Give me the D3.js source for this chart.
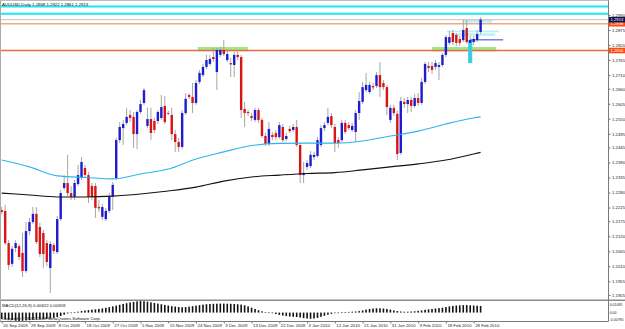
<!DOCTYPE html>
<meta charset="utf-8">
<style>
body { margin: 0; background: #fff; }
svg { display: block; font-family: "Liberation Sans", Arial, sans-serif; }
.t { font-size: 4.3px; fill: #111; }
.axis text { font-size: 4.3px; fill: #222; font-family: "Liberation Sans", Arial, sans-serif; }
.axis line { stroke: #777; }
.axis .domain { display: none; }
.axis.small text { font-size: 3.5px; }
</style>
<svg width="625" height="329"></svg>
<script src="https://cdn.jsdelivr.net/npm/d3@7"></script>
<script>

// daily bars, oldest first
var opens = [1.2216,1.2213,1.2095,1.2019,1.2077,1.2084,1.2059,1.1993,1.2139,1.2172,
  1.2202,1.2154,1.2132,1.2095,1.2004,1.2088,1.2062,1.2183,1.2297,1.2315,
  1.2278,1.2264,1.2311,1.2337,1.2370,1.2344,1.2304,1.2304,1.2227,1.2191,
  1.2183,1.2213,1.2267,1.2333,1.2472,1.2516,1.2535,1.2564,1.2557,1.2494,
  1.2575,1.2608,1.2524,1.2549,1.2542,1.2542,1.2553,1.2597,1.2571,1.2564,
  1.2494,1.2465,1.2447,1.2571,1.2637,1.2630,1.2608,1.2685,1.2710,1.2740,
  1.2751,1.2776,1.2721,1.2784,1.2802,1.2765,1.2754,1.2747,1.2784,1.2776,
  1.2586,1.2575,1.2560,1.2546,1.2582,1.2546,1.2487,1.2458,1.2491,1.2498,
  1.2483,1.2520,1.2476,1.2513,1.2509,1.2520,1.2454,1.2344,1.2374,1.2377,
  1.2410,1.2414,1.2454,1.2516,1.2535,1.2560,1.2520,1.2472,1.2472,1.2535,
  1.2527,1.2509,1.2502,1.2571,1.2612,1.2655,1.2648,1.2670,1.2670,1.2710,
  1.2681,1.2666,1.2546,1.2590,1.2568,1.2425,1.2612,1.2604,1.2619,1.2597,
  1.2626,1.2608,1.2685,1.2743,1.2743,1.2740,1.2740,1.2747,1.2784,1.2828,
  1.2864,1.2857,1.2842,1.2838,1.2882,1.2828,1.2831,1.2838,1.2868];
var highs = [1.2227,1.2235,1.2106,1.2084,1.2106,1.2092,1.2132,1.2172,1.2187,1.2227,
  1.2227,1.2169,1.2143,1.2106,1.2103,1.2095,1.2194,1.2289,1.2344,1.2418,
  1.2304,1.2326,1.2381,1.2410,1.2381,1.2355,1.2315,1.2315,1.2253,1.2238,
  1.2224,1.2278,1.2319,1.2480,1.2538,1.2546,1.2590,1.2582,1.2575,1.2582,
  1.2619,1.2663,1.2590,1.2590,1.2553,1.2582,1.2637,1.2633,1.2579,1.2590,
  1.2509,1.2480,1.2582,1.2644,1.2644,1.2681,1.2692,1.2729,1.2751,1.2784,
  1.2784,1.2809,1.2809,1.2813,1.2839,1.2798,1.2773,1.2795,1.2795,1.2784,
  1.2612,1.2582,1.2571,1.2590,1.2590,1.2553,1.2498,1.2538,1.2502,1.2509,
  1.2538,1.2531,1.2498,1.2524,1.2531,1.2546,1.2461,1.2392,1.2399,1.2432,
  1.2429,1.2483,1.2527,1.2538,1.2590,1.2571,1.2531,1.2483,1.2546,1.2546,
  1.2538,1.2535,1.2582,1.2648,1.2685,1.2718,1.2685,1.2681,1.2721,1.2758,
  1.2692,1.2674,1.2601,1.2601,1.2579,1.2630,1.2626,1.2630,1.2630,1.2641,
  1.2644,1.2699,1.2758,1.2758,1.2758,1.2765,1.2758,1.2791,1.2857,1.2871,
  1.2875,1.2864,1.2853,1.2912,1.2912,1.2853,1.2853,1.2875,1.2922];
var lows = [1.2202,1.2088,1.1997,1.2008,1.2062,1.2033,1.1971,1.1986,1.2125,1.2165,
  1.2092,1.2044,1.2004,1.2011,1.1912,1.2055,1.2055,1.2176,1.2289,1.2267,
  1.2253,1.2253,1.2304,1.2326,1.2333,1.2242,1.2253,1.2187,1.2209,1.2180,
  1.2176,1.2205,1.2216,1.2326,1.2461,1.2454,1.2527,1.2538,1.2443,1.2439,
  1.2568,1.2601,1.2516,1.2472,1.2498,1.2531,1.2546,1.2531,1.2564,1.2472,
  1.2429,1.2429,1.2439,1.2564,1.2623,1.2571,1.2601,1.2677,1.2703,1.2732,
  1.2743,1.2758,1.2655,1.2776,1.2780,1.2758,1.2703,1.2703,1.2765,1.2553,
  1.2520,1.2560,1.2542,1.2538,1.2535,1.2480,1.2450,1.2450,1.2472,1.2472,
  1.2476,1.2465,1.2469,1.2498,1.2502,1.2447,1.2315,1.2315,1.2363,1.2370,
  1.2399,1.2407,1.2447,1.2505,1.2527,1.2516,1.2429,1.2443,1.2465,1.2494,
  1.2509,1.2502,1.2465,1.2546,1.2604,1.2648,1.2641,1.2655,1.2663,1.2630,
  1.2655,1.2564,1.2535,1.2560,1.2399,1.2418,1.2590,1.2571,1.2575,1.2590,
  1.2597,1.2601,1.2677,1.2721,1.2714,1.2729,1.2692,1.2740,1.2776,1.2820,
  1.2820,1.2817,1.2817,1.2831,1.2824,1.2754,1.2820,1.2831,1.2861];
var closes = [1.2209,1.2095,1.2015,1.2074,1.2095,1.2044,1.1993,1.2139,1.2172,1.2202,
  1.2099,1.2055,1.2055,1.2026,1.2092,1.2066,1.2183,1.2278,1.2315,1.2278,
  1.2264,1.2315,1.2344,1.2392,1.2344,1.2264,1.2264,1.2224,1.2222,1.2227,
  1.2213,1.2264,1.2308,1.2472,1.2520,1.2531,1.2557,1.2553,1.2494,1.2575,
  1.2604,1.2655,1.2549,1.2498,1.2509,1.2575,1.2593,1.2538,1.2569,1.2494,
  1.2465,1.2447,1.2571,1.2623,1.2630,1.2608,1.2681,1.2718,1.2740,1.2765,
  1.2769,1.2769,1.2802,1.2802,1.2787,1.2787,1.2749,1.2784,1.2776,1.2582,
  1.2571,1.2571,1.2553,1.2582,1.2546,1.2487,1.2458,1.2513,1.2483,1.2483,
  1.2527,1.2472,1.2487,1.2505,1.2520,1.2454,1.2344,1.2352,1.2388,1.2418,
  1.2418,1.2472,1.2516,1.2527,1.2557,1.2527,1.2461,1.2461,1.2535,1.2502,
  1.2516,1.2524,1.2571,1.2615,1.2666,1.2674,1.2674,1.2665,1.2710,1.2666,
  1.2666,1.2593,1.2590,1.2571,1.2421,1.2615,1.2604,1.2619,1.2597,1.2626,
  1.2608,1.2685,1.2751,1.2736,1.2729,1.2754,1.2747,1.2784,1.2849,1.2849,
  1.2831,1.2828,1.2828,1.2875,1.2831,1.2838,1.2842,1.2860,1.2913];

// MACD(12,26,9) main values per bar
var macd = [-0.0060,-0.0063,-0.0066,-0.0070,-0.0075,-0.0079,-0.0077,-0.0074,-0.0071,-0.0068,
  -0.0066,-0.0064,-0.0062,-0.0060,-0.0056,-0.0050,-0.0042,-0.0032,-0.0020,
  -0.0008,-0.0003,0.0003,0.0008,
  0.0014,0.0019,0.0023,0.0027,0.0030,0.0034,0.0039,0.0045,0.0051,0.0058,0.0065,
  0.0073,0.0081,0.0088,0.0095,0.0100,0.0105,0.01085,0.0106,0.0102,
  0.0096,0.0090,0.0084,0.0078,0.0072,0.0066,0.0060,0.0056,0.0052,
  0.0050,0.0052,0.0056,0.0060,0.0065,0.0070,
  0.0074,0.0078,0.0080,0.0082,0.0083,0.0084,0.0084,0.0083,0.0082,0.0080,0.0078,0.0075,
  0.0068,0.0058,0.0046,0.0034,0.0022,0.0012,
  0.0005,0.0001,-0.0006,-0.0014,
  -0.0022,-0.0028,-0.0033,-0.0037,-0.0040,-0.0042,-0.0046,-0.0052,-0.0056,-0.0058,-0.0056,-0.0050,
  -0.0040,-0.0030,-0.0020,-0.0012,-0.0006,-0.0002,0.0002,0.0004,0.0006,0.0008,0.0010,0.0014,0.0020,
  0.0028,0.0034,0.0038,0.0040,0.0040,0.0038,0.0034,0.0028,
  0.0020,0.0014,0.0010,0.0008,0.0008,0.0010,0.0012,0.0016,0.0020,
  0.0026,0.0030,0.0034,0.0038,0.0042,0.0046,0.0052,0.0058,0.0062,0.0066,0.0068,0.0070,0.0070,
  0.0068,0.0066,0.0064,0.00622];

// moving averages, sampled at these bars
var maBars  = [0,8,16,24,32,40,48,56,64,72,80,88,96,104,112,120,128,136,138];
var maFast  = [1.2399,1.2374,1.2341,1.2335,1.2330,1.2348,1.2366,1.2403,1.2429,1.2452,
  1.2460,1.2461,1.2461,1.2469,1.2487,1.2505,1.2531,1.2553,1.2557];
var maSlow  = [1.2278,1.2271,1.2264,1.2264,1.2267,1.2275,1.2286,1.2300,1.2322,1.2337,
  1.2344,1.2350,1.2353,1.2363,1.2374,1.2385,1.2399,1.2421,1.2427];

var priceTicks = [1.2930,1.2875,1.2820,1.2765,1.2710,1.2660,1.2605,1.2550,1.2495,1.2445,
  1.2390,1.2335,1.2280,1.2225,1.2175,1.2120,1.2065,1.2010,1.1955,1.1905];
var dateLabels = ["20 Sep 2009","29 Sep 2009","8 Oct 2009","18 Oct 2009","27 Oct 2009",
  "5 Nov 2009","15 Nov 2009","24 Nov 2009","3 Dec 2009","13 Dec 2009","22 Dec 2009",
  "3 Jan 2010","12 Jan 2010","21 Jan 2010","31 Jan 2010","9 Feb 2010","18 Feb 2010","28 Feb 2010"];
var macdTicks = [0.01085, 0, -0.0079];
var macdTickText = ["0.01085", "0.00", "-0.00790"];

// drawn objects
var cyanLevels = [1.2961, 1.2935];
var orangeLevels = [1.2898, 1.2800];
var greenZones = [[56.5, 71, 1.2813, 1.2797], [124, 142.5, 1.2813, 1.2797]];
var paleBoxes = [[133, 141.3, 1.2912, 1.2902], [128.3, 143.3, 1.2873, 1.2867], [129.8, 142.2, 1.2863, 1.2854]];
var blueSegs = [[135, 144.5, 1.2839]];
var pinBox = [134.4, 135.6, 1.2839, 1.2754];

var svg = d3.select("svg");
var n = closes.length;
var bars = d3.range(n);

var x = d3.scaleLinear().domain([0, n - 1]).range([1.7, 480.6]);
var y = d3.scaleLinear().domain([1.1905, 1.2930]).range([295, 15]);
var ym = d3.scaleLinear().domain([-0.0079, 0.01085]).range([321, 301]);

var right = 608.5;

// objects behind the bars
svg.selectAll(".gz").data(greenZones).enter().append("rect")
  .attr("x", d => x(d[0])).attr("width", d => x(d[1]) - x(d[0]))
  .attr("y", d => y(d[2])).attr("height", d => y(d[3]) - y(d[2]))
  .attr("fill", "#a4e68c");
svg.selectAll(".pb").data(paleBoxes).enter().append("rect")
  .attr("x", d => x(d[0])).attr("width", d => x(d[1]) - x(d[0]))
  .attr("y", d => y(d[2])).attr("height", d => y(d[3]) - y(d[2]))
  .attr("fill", "#b8f2f8");

svg.selectAll(".cl").data(cyanLevels).enter().append("line")
  .attr("x1", 0).attr("x2", right).attr("y1", d => y(d)).attr("y2", d => y(d))
  .attr("stroke", "#1ce6f2").attr("stroke-width", 2);
svg.append("line").attr("x1", 0).attr("x2", right)
  .attr("y1", y(closes[n - 1])).attr("y2", y(closes[n - 1]))
  .attr("stroke", "#b4b4b4").attr("stroke-width", 0.8);
svg.selectAll(".ol").data(orangeLevels).enter().append("line")
  .attr("x1", 0).attr("x2", right).attr("y1", d => y(d)).attr("y2", d => y(d))
  .attr("stroke", (d, i) => i ? "#ec6a3c" : "#f4a684").attr("stroke-width", 1.4);

svg.append("rect")
  .attr("x", x(pinBox[0])).attr("width", x(pinBox[1]) - x(pinBox[0]))
  .attr("y", y(pinBox[2])).attr("height", y(pinBox[3]) - y(pinBox[2]))
  .attr("fill", "#22dcf2");
svg.selectAll(".bs").data(blueSegs).enter().append("line")
  .attr("x1", d => x(d[0])).attr("x2", d => x(d[1]))
  .attr("y1", d => y(d[2])).attr("y2", d => y(d[2]))
  .attr("stroke", "#1a2ee0").attr("stroke-width", 0.9);

// candles
var cg = svg.append("g");
cg.selectAll(".wick").data(bars).enter().append("line")
  .attr("x1", i => x(i)).attr("x2", i => x(i))
  .attr("y1", i => y(highs[i])).attr("y2", i => y(lows[i]))
  .attr("stroke", "#9c9c9c").attr("stroke-width", 0.9);
cg.selectAll(".body").data(bars).enter().append("rect")
  .attr("x", i => x(i) - 1.2).attr("width", 2.4)
  .attr("y", i => y(Math.max(opens[i], closes[i])))
  .attr("height", i => Math.max(0.8, Math.abs(y(opens[i]) - y(closes[i]))))
  .attr("fill", i => closes[i] >= opens[i] ? "#1c1cd0" : "#d81414");

// moving averages
var line = d3.line().x(d => x(d[0])).y(d => y(d[1])).curve(d3.curveMonotoneX);
svg.append("path").datum(maBars.map((b, k) => [b, maFast[k]]))
  .attr("d", line).attr("fill", "none").attr("stroke", "#2cb4f0").attr("stroke-width", 1.1);
svg.append("path").datum(maBars.map((b, k) => [b, maSlow[k]]))
  .attr("d", line).attr("fill", "none").attr("stroke", "#111").attr("stroke-width", 1.1);

// title
svg.append("text").attr("class", "t").attr("x", 2).attr("y", 6.3)
  .text("AUDUSD,Daily  1.2868 1.2922 1.2861 1.2913");

// MACD pane
svg.append("text").attr("class", "t").attr("x", 2).attr("y", 319.5)
  .text("Copyright \u00a9 2001-2008 MetaQuotes Software Corp.");
svg.selectAll(".mb").data(bars).enter().append("rect")
  .attr("x", i => x(i) - 0.8).attr("width", 1.6)
  .attr("y", i => Math.min(ym(0), ym(macd[i])))
  .attr("height", i => Math.max(0.6, Math.abs(ym(macd[i]) - ym(0))))
  .attr("fill", "#111");
svg.append("text").attr("class", "t").attr("x", 2).attr("y", 306.5)
  .text("MACD(12,26,9) 0.00622 0.00658");

// frame and separators
svg.append("line").attr("x1", 0).attr("x2", 625).attr("y1", 300.3).attr("y2", 300.3)
  .attr("stroke", "#8c8c8c").attr("stroke-width", 1.6);
svg.append("line").attr("x1", right).attr("x2", right).attr("y1", 0).attr("y2", 321.5)
  .attr("stroke", "#7a7a7a").attr("stroke-width", 1);
svg.append("line").attr("x1", 0).attr("x2", right).attr("y1", 321.5).attr("y2", 321.5)
  .attr("stroke", "#7a7a7a").attr("stroke-width", 1);
svg.append("line").attr("x1", 0.5).attr("x2", 0.5).attr("y1", 0).attr("y2", 321.5)
  .attr("stroke", "#aaa").attr("stroke-width", 1);
svg.append("line").attr("x1", 0).attr("x2", right).attr("y1", 0.5).attr("y2", 0.5)
  .attr("stroke", "#bbb").attr("stroke-width", 1);

// price axis
svg.append("g").attr("class", "axis").attr("transform", "translate(" + right + ",0)")
  .call(d3.axisRight(y).tickValues(priceTicks).tickSize(2).tickPadding(1.5)
    .tickFormat(d3.format(".4f")));

// macd axis
svg.append("g").attr("class", "axis small").attr("transform", "translate(" + right + ",0)")
  .call(d3.axisRight(ym).tickValues(macdTicks).tickSize(0).tickPadding(1.2)
    .tickFormat((d, i) => macdTickText[i]))
  .selectAll("text").attr("dy", (d, i) => ["1.3em", "0.35em", "-0.2em"][i]);

// price tags on the axis
function tag(p, bg, fg) {
  var g = svg.append("g").attr("transform", "translate(" + (right + 0.5) + "," + y(p) + ")");
  g.append("rect").attr("x", 0).attr("y", -2.8).attr("width", 16).attr("height", 5.6).attr("fill", bg);
  g.append("text").attr("x", 1.5).attr("y", 1.6).attr("font-size", 4.2).attr("fill", fg)
    .text(d3.format(".4f")(p));
}
orangeLevels.forEach(p => tag(p, "#ff4a10", "#fff"));
tag(closes[n - 1], "#10104a", "#fff");

// date axis
var dateBars = dateLabels.map((d, k) => k * 8);
var da = svg.append("g").attr("class", "axis").attr("transform", "translate(0,321.5)")
  .call(d3.axisBottom(x).tickValues(dateBars).tickSize(2)
    .tickFormat((d, i) => dateLabels[i]));
da.selectAll("text").attr("text-anchor", "start").attr("x", 1).attr("y", 2.2);

</script>
